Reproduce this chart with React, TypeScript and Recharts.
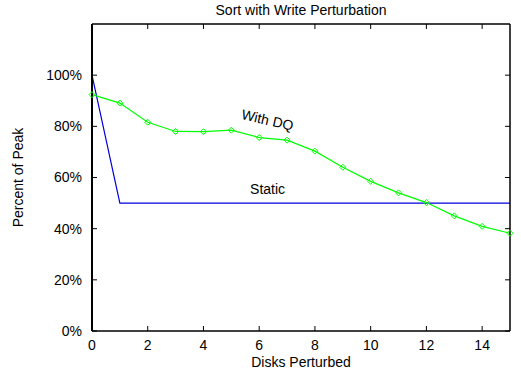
import React from 'react';
import { LineChart, Line, XAxis, YAxis, ReferenceDot } from 'recharts';

const disks = [0, 1, 2, 3, 4, 5, 6, 7, 8, 9, 10, 11, 12, 13, 14, 15];
const withDQ = [92.4, 89.1, 81.6, 78.0, 77.9, 78.5, 75.6, 74.6, 70.3, 64.0, 58.5, 54.0, 50.2, 45.0, 40.9, 38.2];
const staticDisks = [0, 1, 15];
const staticValues = [100, 50, 50];
const xTicks = [0, 2, 4, 6, 8, 10, 12, 14];
const yTicks = [0, 20, 40, 60, 80, 100];

const dqData = disks.map((x, i) => ({ x, v: withDQ[i] }));
const staticData = staticDisks.map((x, i) => ({ x, v: staticValues[i] }));

const FONT = '"Liberation Sans", Arial, sans-serif';
const GREEN = '#00ff00';
const BLUE = '#0000dd';

const Diamond = (props: any) => {
  const { cx, cy } = props;
  if (cx == null || cy == null) return null;
  const s = 3;
  return (
    <path
      d={`M${cx},${cy - s}L${cx + s},${cy}L${cx},${cy + s}L${cx - s},${cy}Z`}
      fill="none"
      stroke={GREEN}
      strokeWidth={1}
    />
  );
};

export default function App() {
  return (
    <div style={{ position: 'absolute', left: 0, top: 0, fontFamily: FONT }}>
      <LineChart
        width={521}
        height={371}
        margin={{ top: 23, right: 10, bottom: 0, left: 0 }}
        style={{ fontFamily: FONT }}
      >
        <XAxis
          xAxisId="b"
          dataKey="x"
          type="number"
          domain={[0, 15]}
          ticks={xTicks}
          orientation="bottom"
          height={40}
          tickSize={-5}
          tickMargin={14}
          stroke="#000"
          tick={{ fill: '#000', fontSize: 14 }}
          axisLine={{ stroke: '#000', strokeWidth: 1.5 }}
          tickLine={{ stroke: '#000' }}
          label={{ value: 'Disks Perturbed', position: 'insideBottom', offset: 4, fill: '#000', fontSize: 14 }}
        />
        <XAxis
          xAxisId="t"
          dataKey="x"
          type="number"
          domain={[0, 15]}
          allowDataOverflow
          ticks={xTicks}
          interval={0}
          orientation="top"
          height={1}
          tickSize={-5}
          tickFormatter={() => ' '}
          stroke="#000"
          axisLine={{ stroke: '#000', strokeWidth: 1.5 }}
          tickLine={{ stroke: '#000' }}
          label={{ value: 'Sort with Write Perturbation', position: 'top', offset: 8, fill: '#000', fontSize: 14 }}
        />
        <YAxis
          yAxisId="l"
          type="number"
          domain={[0, 120]}
          ticks={yTicks}
          orientation="left"
          width={92}
          tickSize={-5}
          tickMargin={15}
          tickFormatter={(v: number) => `${v}%`}
          stroke="#000"
          tick={{ fill: '#000', fontSize: 14 }}
          axisLine={{ stroke: '#000', strokeWidth: 2 }}
          tickLine={{ stroke: '#000' }}
          label={{ value: 'Percent of Peak', angle: -90, position: 'insideLeft', offset: 18, fill: '#000', fontSize: 14, style: { textAnchor: 'middle' } }}
        />
        <YAxis
          yAxisId="r"
          type="number"
          domain={[0, 120]}
          allowDataOverflow
          ticks={yTicks}
          interval={0}
          orientation="right"
          width={1}
          tickSize={-5}
          tickFormatter={() => ' '}
          stroke="#000"
          axisLine={{ stroke: '#000', strokeWidth: 1.5 }}
          tickLine={{ stroke: '#000' }}
        />
        <Line
          xAxisId="b"
          yAxisId="l"
          data={staticData}
          dataKey="v"
          type="linear"
          stroke={BLUE}
          strokeWidth={1.2}
          dot={false}
          isAnimationActive={false}
        />
        <Line
          xAxisId="b"
          yAxisId="l"
          data={dqData}
          dataKey="v"
          type="linear"
          stroke={GREEN}
          strokeWidth={1.2}
          dot={<Diamond />}
          isAnimationActive={false}
        />
        <ReferenceDot
          xAxisId="b"
          yAxisId="l"
          x={6.3}
          y={82.5}
          r={0}
          stroke="none"
          ifOverflow="visible"
          label={{ value: 'With DQ', position: 'center', angle: 13, fill: '#000', fontSize: 14 }}
        />
        <ReferenceDot
          xAxisId="b"
          yAxisId="l"
          x={6.3}
          y={55.3}
          r={0}
          stroke="none"
          ifOverflow="visible"
          label={{ value: 'Static', position: 'center', fill: '#000', fontSize: 14 }}
        />
      </LineChart>
    </div>
  );
}
